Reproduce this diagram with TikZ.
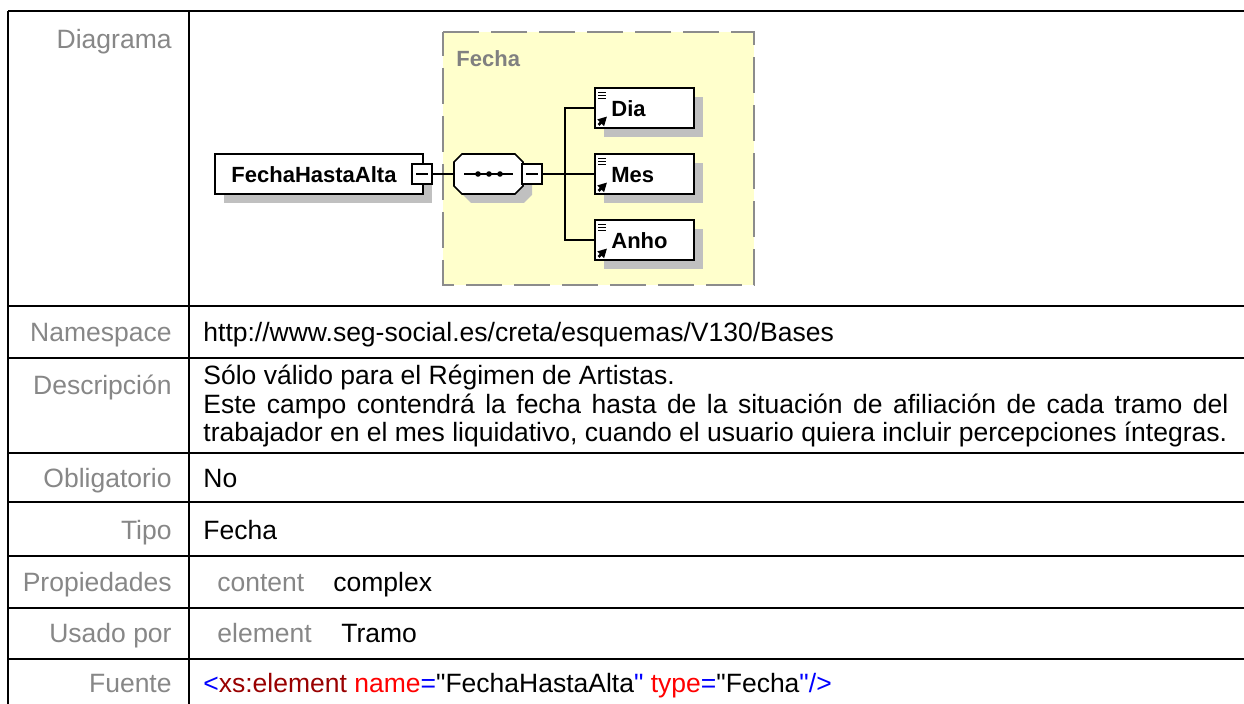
\documentclass[tikz,border=0pt]{standalone}
\usepackage{fontspec}
\setmainfont{Liberation Sans}[Ligatures=TeXOff]
\usetikzlibrary{arrows.meta}
\definecolor{lblgray}{HTML}{878787}
\definecolor{fechayellow}{HTML}{FFFFCC}
\definecolor{dashgray}{HTML}{8C8C8C}
\definecolor{fechagray}{HTML}{808080}
\definecolor{shadowgray}{HTML}{C0C0C0}
\definecolor{xblue}{HTML}{0000FF}
\definecolor{xdred}{HTML}{990000}
\definecolor{xred}{HTML}{FF0000}
\newcommand\tabfont{\fontsize{13.25pt}{15pt}\selectfont}
\newcommand\dgfont{\fontsize{11pt}{12pt}\selectfont\bfseries}
\tikzset{
  lbl/.style={anchor=base east, text=lblgray, inner sep=0pt, font=\tabfont},
  val/.style={anchor=base west, inner sep=0pt, font=\tabfont},
  subl/.style={anchor=base west, inner sep=0pt, font=\tabfont, text=lblgray},
  tline/.style={line width=1.25pt},
  elbox/.style={draw=black, fill=white, line width=0.8pt, inner sep=0pt, outer sep=0pt},
  minusbox/.style={draw=black, fill=white, line width=0.8pt, minimum size=10pt, inner sep=0pt, outer sep=0pt},
  conn/.style={draw=black, line width=0.8pt},
  dgtext/.style={font=\dgfont, inner sep=0pt},
}
\begin{document}
\begin{tikzpicture}[x=0.5pt,y=-0.5pt]
\clip (0,0) rectangle (1244,704);
\fill[white] (0,0) rectangle (1244,704);

% ---------- diagram ----------
\draw[fill=fechayellow, draw=dashgray, line width=1.25pt, dash pattern=on 18pt off 6pt, dash phase=6pt] (443,32) rectangle (754,285);
\node[dgtext, anchor=west, text=fechagray] (fechalbl) at (456,59) {Fecha};

% FechaHastaAlta element
\fill[shadowgray] (224,163) rectangle (432,203);
\node[elbox, anchor=north west, minimum width=104pt, minimum height=20pt] (fha) at (215,154) {};
\node[dgtext] (fhatext) at (314,175) {FechaHastaAlta};
\node[minusbox] (fhaminus) at (422,174) {};
\draw[line width=0.8pt] ([xshift=2pt]fhaminus.west) -- ([xshift=-2pt]fhaminus.east);

% sequence compositor
\fill[shadowgray] (471,163) -- (524,163) -- (532,171) -- (532,195) -- (524,203) -- (471,203) -- (463,195) -- (463,171) -- cycle;
\draw[elbox] (462,154) -- (515,154) -- (523,162) -- (523,186) -- (515,194) -- (462,194) -- (454,186) -- (454,162) -- cycle;
\coordinate (seqW) at (454,174);
\draw[line width=0.8pt] (464,174) -- (513,174);
\foreach \dx in {478,489,500} \fill (\dx,174) circle (1.4pt);
\node[minusbox] (seqminus) at (532,174) {};
\draw[line width=0.8pt] ([xshift=2pt]seqminus.west) -- ([xshift=-2pt]seqminus.east);
\draw[conn] (fhaminus.east) -- (seqW);

\coordinate (trunk) at (565,174);
\draw[conn] (seqminus.east) -- (trunk);

% children
\foreach \n/\t/\c in {dia/Dia/108, mes/Mes/174, anho/Anho/240} {
  \fill[shadowgray] (604,\c-11) rectangle (703,\c+29);
  \node[elbox, anchor=north west, minimum width=49.5pt, minimum height=20pt] (\n) at (595,\c-20) {};
  \node[dgtext, anchor=west] (\n text) at (611,\c+1) {\t};
  \foreach \yy in {-15.5,-12.5,-9.5} \draw[line width=0.75pt] (598,\c+\yy) -- (606,\c+\yy);
  \draw[line width=1.3pt, -{Triangle[length=4.5pt,width=4.5pt]}] (598.5,\c+17) -- (607,\c+8.5);
}
\draw[conn] (dia.west) -| (trunk);
\draw[conn] (anho.west) -| (trunk);
\draw[conn] (trunk) -- (mes.west);

% ---------- table ----------
\draw[tline] (8,11) -- (1250,11);
\foreach \yy in {306,358,453,502,556,608,659} \draw[tline] (8,\yy) -- (1250,\yy);
\draw[tline] (8,11) -- (8,712);
\draw[tline] (189,11) -- (189,712);

\node[lbl] (l0) at (172,49) {Diagrama};
\node[lbl] (l1) at (172,342) {Namespace};
\node[val] (v1) at (203,342) {http://www.seg-social.es/creta/esquemas/V130/Bases};
\node[lbl] (l2) at (172,395) {Descripción};
\node[val] (v2a) at (203,385) {Sólo válido para el Régimen de Artistas.};
\node[val] (v2b) at (203,414) {\makebox[512.5pt][s]{Este campo contendrá la fecha hasta de la situación de afiliación de cada tramo del}};
\node[val] (v2c) at (203,442) {trabajador en el mes liquidativo, cuando el usuario quiera incluir percepciones íntegras.};
\node[lbl] (l3) at (172,488) {Obligatorio};
\node[val] (v3) at (203,488) {No};
\node[lbl] (l4) at (172,540) {Tipo};
\node[val] (v4) at (203,540) {Fecha};
\node[lbl] (l5) at (172,592) {Propiedades};
\node[subl] (v5a) at (217,592) {content};
\node[val] (v5b) at (333,592) {complex};
\node[lbl] (l6) at (172,643) {Usado por};
\node[subl] (v6a) at (217,643) {element};
\node[val] (v6b) at (341,643) {Tramo};
\node[lbl] (l7) at (172,693) {Fuente};
\node[val] (v7) at (203,693) {\textcolor{xblue}{<}\textcolor{xdred}{xs:element} \textcolor{xred}{name}\textcolor{xblue}{=}"FechaHastaAlta\textcolor{xblue}{"} \textcolor{xred}{type}\textcolor{xblue}{=}"Fecha\textcolor{xblue}{"/>}};
\end{tikzpicture}
\end{document}
